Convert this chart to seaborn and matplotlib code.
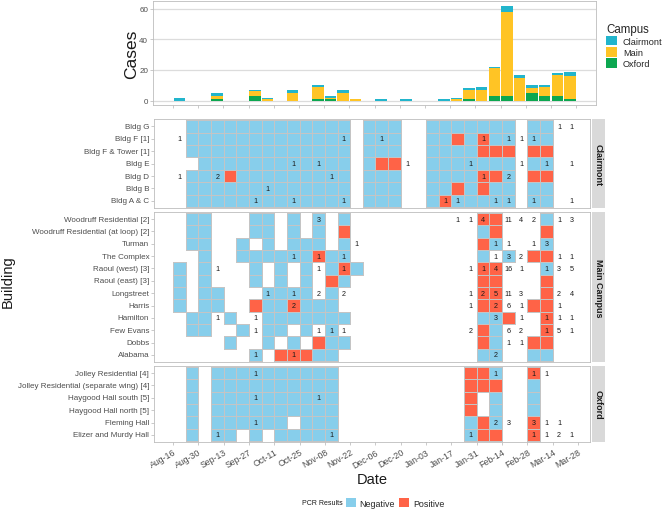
import numpy as np
import pandas as pd
import matplotlib
matplotlib.use("Agg")
import matplotlib.pyplot as plt
import seaborn as sns
from matplotlib.colors import ListedColormap, to_rgba
from matplotlib.patches import Patch

# ---------------- data ----------------
week_tick_labels = ["Aug-16", "Aug-30", "Sep-13", "Sep-27", "Oct-11", "Oct-25",
                    "Nov-08", "Nov-22", "Dec-06", "Dec-20", "Jan-03", "Jan-17",
                    "Jan-31", "Feb-14", "Feb-28", "Mar-14", "Mar-28"]
campuses = ["Clairmont", "Main", "Oxford"]
facet_titles = ["Clairmont", "Main Campus", "Oxford"]
campus_colors = ["#22B5CC", "#FFC425", "#0CA750"]
pcr_labels = ["Negative", "Positive"]
pcr_colors = ["#87CEEB", "#FF6347"]

# weekly PCR result per building (one char per week from Aug-16):
# '.' = no sample, 'N' = negative, 'P' = positive
clairmont_buildings = ["Bldg G", "Bldg F [1]", "Bldg F & Tower [1]", "Bldg E",
                       "Bldg D", "Bldg B", "Bldg A & C"]
clairmont_pcr = [
    ".NNNNNNN NNNNNN.N NN..NNNN NNN.NN..",
    ".NNNNNNN NNNNNN.N NN..NNPN PNN.NN..",
    ".NNNNNNN NNNNNN.N NN..NNNN PPP.PP..",
    "..NNNNNN NNNNNN.N PP..NNNN NNN.NN..",
    ".NNNPNNN NNNNNN.N NN..NNNN PPN.PP..",
    ".NNNNNNN NNNNNN.N NN..NNPN PNN.NN..",
    ".NNNNNNN NNNNNN.N NN..NPNN NNN.NN..",
]
clairmont_cases = [
    {30: 1, 31: 1},
    {0: 1, 13: 1, 16: 1, 24: 1, 26: 1, 27: 1, 28: 1},
    {},
    {9: 1, 11: 1, 18: 1, 23: 1, 27: 1, 29: 1, 31: 1},
    {0: 1, 3: 2, 12: 1, 24: 1, 26: 2},
    {7: 1},
    {6: 1, 9: 1, 13: 1, 21: 1, 22: 1, 25: 1, 26: 1, 28: 1, 31: 1},
]

main_buildings = ["Woodruff Residential [2]", "Woodruff Residential (at loop) [2]",
                  "Turman", "The Complex", "Raoul (west) [3]", "Raoul (east) [3]",
                  "Longstreet", "Harris", "Hamilton", "Few Evans", "Dobbs", "Alabama"]
main_pcr = [
    ".NN...NN .N.N.N.. ........ PP...N..",
    ".NN...NN .N.N.P.. ........ NP...P..",
    ".NN..N.N .NNN.N.. ........ PN...N..",
    "..N..NNN NNNPNN.. ........ N.N.PP..",
    "N.N...N. N.N.NPN. ........ PP...N..",
    "N.N...N. N.N.PN.. ........ PP...P..",
    "N.NN...N NNN.N... ........ PP...P..",
    "N.NN..PN NPNNN... ........ PP..PP..",
    ".NN.N..N NNNNNN.. ........ NNP..P..",
    ".NN..N.N N.N.N... ........ PN...P..",
    "....N..N .N.PNN.. ........ PN..PP..",
    "......N. PPPNN... ........ NN..NN..",
]
main_cases = [
    {11: 3, 22: 1, 23: 1, 24: 4, 26: 11, 27: 4, 28: 2, 30: 1, 31: 3},
    {},
    {14: 1, 25: 1, 26: 1, 28: 1, 29: 3},
    {9: 1, 11: 1, 13: 1, 25: 1, 26: 3, 27: 2, 30: 1, 31: 1},
    {3: 1, 11: 1, 13: 1, 23: 1, 24: 1, 25: 4, 26: 16, 27: 1, 29: 1, 30: 3, 31: 5},
    {},
    {7: 1, 9: 1, 11: 2, 13: 2, 23: 1, 24: 2, 25: 5, 26: 11, 27: 3, 30: 2, 31: 4},
    {9: 2, 23: 1, 25: 2, 26: 6, 27: 1, 30: 1},
    {3: 1, 6: 1, 25: 3, 27: 1, 29: 1, 30: 1, 31: 1},
    {6: 1, 11: 1, 12: 1, 13: 1, 23: 2, 26: 6, 27: 2, 29: 1, 30: 5, 31: 1},
    {26: 1, 27: 1},
    {6: 1, 9: 1, 25: 2},
]

oxford_buildings = ["Jolley Residential [4]", "Jolley Residential (separate wing) [4]",
                    "Haygood Hall south [5]", "Haygood Hall north [5]",
                    "Fleming Hall", "Elizer and Murdy Hall"]
oxford_pcr = [
    ".N.NNNNN NNNNN... .......P PN..P...",
    ".N.NNNNN NNNNN... .......P PP..N...",
    ".N.NNNNN NNNNN... .......P .N..N...",
    ".N.NNNNN NNNNN... .......P .N..N...",
    ".N.NNNNN N.NNN... .......N PN..P...",
    ".N.NN.N. NNNNN... .......N PP..P...",
]
oxford_cases = [
    {6: 1, 25: 1, 28: 1, 29: 1},
    {},
    {6: 1, 11: 1},
    {},
    {6: 1, 25: 2, 26: 3, 28: 3, 29: 1, 30: 1},
    {3: 1, 12: 1, 23: 1, 28: 1, 29: 1, 30: 2, 31: 1},
]

# ---------------- style ----------------
sns.set_theme(style="white")
plt.rcParams["font.family"] = ["Liberation Sans", "DejaVu Sans"]

W, H = 664, 510
fig = plt.figure(figsize=(W / 100, H / 100), dpi=100)


def rect(x0, y0, x1, y1):
    return [x0 / W, 1 - y1 / H, (x1 - x0) / W, (y1 - y0) / H]


TICK_C = "#4D4D4D"
BORDER_C = "#BDBDBD"
EDGE_C = "#C4C4C4"
n_weeks = 32
tick_pos = np.arange(0, 33, 2)

# ---------------- top stacked bars ----------------
rows = []
for campus, case_list in zip(campuses, [clairmont_cases, main_cases, oxford_cases]):
    totals = np.zeros(n_weeks)
    for d in case_list:
        for w, c in d.items():
            totals[w] += c
    for w in range(n_weeks):
        rows.append({"week": w + 0.5, "campus": campus, "cases": totals[w]})
bars = pd.DataFrame(rows)

ax_top = fig.add_axes(rect(152.9, 1.8, 596.4, 106.4))
sns.histplot(data=bars, x="week", weights="cases", hue="campus", hue_order=campuses,
             palette=campus_colors, multiple="stack", discrete=True, shrink=0.9,
             alpha=1, linewidth=0, legend=False, ax=ax_top)
ax_top.set_xlim(-1.6, 33.6)
ax_top.set_ylim(-3.1, 65.1)
ax_top.set_yticks([0, 20, 40, 60])
ax_top.set_xticks(tick_pos)
ax_top.set_xticklabels([])
ax_top.set_axisbelow(True)
ax_top.yaxis.grid(True, color="#DCDCDC", lw=0.9)
ax_top.xaxis.grid(False)
ax_top.set_xlabel("")
ax_top.set_ylabel("")
ax_top.tick_params(axis="both", length=2, width=0.5, color="#B3B3B3",
                   labelsize=5.8, labelcolor=TICK_C, pad=1.5, left=True, bottom=True)
for sp in ax_top.spines.values():
    sp.set_visible(True)
    sp.set_color(BORDER_C)
    sp.set_linewidth(0.6)
fig.text(132 / W, 1 - 54 / H, "Cases", rotation=90, ha="center", va="center",
         fontsize=12.5, color="#1A1A1A")

fig.legend([Patch(facecolor=c, edgecolor="none") for c in campus_colors], campuses,
           title="Campus", loc="upper left", bbox_to_anchor=(606 / W, 1 - 24 / H),
           frameon=False, fontsize=6.6, title_fontsize=8.3, handlelength=1.15,
           handleheight=1.15, labelspacing=0.15, handletextpad=0.7,
           borderpad=0, borderaxespad=0)._legend_box.align = "left"

# ---------------- heatmap facets ----------------
cmap = ListedColormap(pcr_colors)
panels = [
    (clairmont_buildings, clairmont_pcr, clairmont_cases, 120.0, 209.3),
    (main_buildings, main_pcr, main_cases, 212.6, 363.4),
    (oxford_buildings, oxford_pcr, oxford_cases, 366.6, 443.4),
]
for p, (buildings, pcr, cases, y0, y1) in enumerate(panels):
    mat = np.array([[np.nan if ch == "." else (1.0 if ch == "P" else 0.0)
                     for ch in s.replace(" ", "")] for s in pcr])
    mask = np.isnan(mat)
    ax = fig.add_axes(rect(154, y0, 590, y1))
    sns.heatmap(pd.DataFrame(mat, index=buildings), ax=ax, cmap=cmap, vmin=0, vmax=1,
                mask=mask, linewidths=0.7, linecolor=EDGE_C, cbar=False)
    mesh = ax.collections[0]
    ec = np.tile(np.array(to_rgba(EDGE_C)), (mat.size, 1))
    ec[mask.ravel()] = (0, 0, 0, 0)
    mesh.set_edgecolor(ec)
    n = len(buildings)
    for i, d in enumerate(cases):
        for w, c in d.items():
            ax.text(w + 0.5, i + 0.5, str(c), ha="center", va="center",
                    fontsize=5.2, color="#1A1A1A")
    ax.set_xlim(-1.5, 32.95)
    ax.set_ylim(n + 0.1, -0.1)
    ax.set_yticks(np.arange(n) + 0.5)
    ax.set_yticklabels(buildings, rotation=0)
    ax.set_xticks(tick_pos)
    ax.set_xlabel("")
    ax.set_ylabel("")
    ax.tick_params(axis="y", length=2, width=0.5, color="#B3B3B3", labelsize=5.8,
                   labelcolor=TICK_C, pad=1.5, left=True)
    if p == len(panels) - 1:
        ax.set_xticklabels(week_tick_labels, rotation=30, ha="right",
                           rotation_mode="anchor")
        ax.tick_params(axis="x", length=2, width=0.5, color="#B3B3B3",
                       labelsize=6.3, labelcolor=TICK_C, pad=1.5, bottom=True)
    else:
        ax.tick_params(axis="x", bottom=False, labelbottom=False)
    for sp in ax.spines.values():
        sp.set_visible(True)
        sp.set_color(BORDER_C)
        sp.set_linewidth(0.6)
    # facet strip
    sax = fig.add_axes(rect(591.7, y0, 604.5, y1))
    sax.set_facecolor("#D9D9D9")
    sax.set_xticks([])
    sax.set_yticks([])
    for sp in sax.spines.values():
        sp.set_visible(False)
    sax.text(0.5, 0.5, facet_titles[p], rotation=-90, ha="center", va="center",
             fontsize=6.5, fontweight="bold", color="#1A1A1A", transform=sax.transAxes)

fig.text(8 / W, 1 - 282 / H, "Building", rotation=90, ha="center", va="center",
         fontsize=10.5, color="#1A1A1A")
fig.text(372 / W, 1 - 480 / H, "Date", ha="center", va="center",
         fontsize=10.5, color="#1A1A1A")

fig.text(301.7 / W, 1 - 504 / H, "PCR Results", ha="left", va="center",
         fontsize=5, color="#1A1A1A")
fig.legend([Patch(facecolor=c, edgecolor="none") for c in pcr_colors], pcr_labels,
           ncol=2, loc="center left", bbox_to_anchor=(345.5 / W, 1 - 504 / H),
           frameon=False, fontsize=6.4, handlelength=1.15, handleheight=1.15,
           handletextpad=0.45, columnspacing=0.4, borderpad=0, borderaxespad=0)

fig.savefig("out.png", dpi=100)
